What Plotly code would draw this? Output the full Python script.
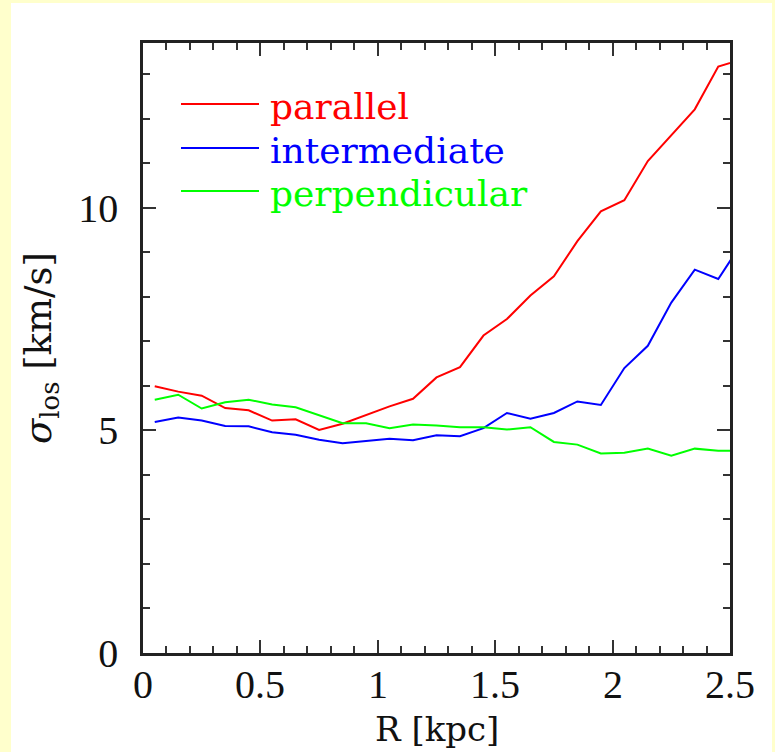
import plotly.graph_objects as go

R = [0.05, 0.15, 0.25, 0.35, 0.45, 0.55, 0.65, 0.75, 0.85, 0.95, 1.05, 1.15, 1.25,
     1.35, 1.45, 1.55, 1.65, 1.75, 1.85, 1.95, 2.05, 2.15, 2.25, 2.35, 2.45, 2.55]
parallel = [5.99, 5.87, 5.78, 5.50, 5.45, 5.22, 5.25, 5.01, 5.15, 5.35, 5.54, 5.71, 6.19,
            6.42, 7.13, 7.50, 8.03, 8.46, 9.25, 9.92, 10.17, 11.05, 11.63, 12.21, 13.17, 13.33]
intermediate = [5.19, 5.29, 5.22, 5.10, 5.09, 4.96, 4.90, 4.79, 4.71, 4.76, 4.81, 4.78, 4.89,
                4.87, 5.05, 5.39, 5.26, 5.39, 5.65, 5.57, 6.40, 6.90, 7.87, 8.61, 8.40, 9.20]
perpendicular = [5.69, 5.80, 5.49, 5.63, 5.69, 5.58, 5.52, 5.34, 5.16, 5.16, 5.05, 5.13, 5.11,
                 5.07, 5.07, 5.02, 5.07, 4.74, 4.68, 4.48, 4.50, 4.59, 4.43, 4.59, 4.54, 4.54]

x_ticks = [0, 0.5, 1, 1.5, 2, 2.5]
x_ticklabels = ["0", "0.5", "1", "1.5", "2", "2.5"]
y_ticks = [0, 5, 10]

series = [("parallel", parallel, "#ff0000"),
          ("intermediate", intermediate, "#0000ff"),
          ("perpendicular", perpendicular, "#00ff00")]

FONT = "DejaVu Serif"
TICKFONT = "Liberation Serif"
fig = go.Figure()
for name, vals, col in series:
    fig.add_trace(go.Scatter(x=R, y=vals, mode="lines", name=name,
                             line=dict(color=col, width=2), showlegend=False))

W, H = 775, 752
L, Rm, T, B = 143, 45, 43, 99
pw, ph = W - L - Rm, H - T - B

def px(x):
    return (x - L) / pw

def py(y):
    return (H - B - y) / ph

shapes = [dict(type="rect", xref="paper", yref="paper", layer="below",
               x0=px(11), x1=px(772), y0=py(760), y1=py(3),
               fillcolor="white", line=dict(width=0))]
annotations = []
leg_y = [104, 148, 191]
for (name, vals, col), yy in zip(series, leg_y):
    shapes.append(dict(type="line", xref="paper", yref="paper",
                       x0=px(181), x1=px(259), y0=py(yy), y1=py(yy),
                       line=dict(color=col, width=2)))
    annotations.append(dict(xref="paper", yref="paper", x=px(268), y=py(yy + 2),
                            xanchor="left", yanchor="middle", text=name, showarrow=False,
                            font=dict(family=FONT, size=36, color=col)))

# x tick labels placed on the x axis scale
for tv, tt in zip(x_ticks, x_ticklabels):
    annotations.append(dict(xref="x", yref="paper", x=tv, y=py(684),
                            xanchor="center", yanchor="middle", text=tt, showarrow=False,
                            font=dict(family=TICKFONT, size=40, color="#111")))

annotations.append(dict(xref="paper", yref="paper", x=0.5, y=py(729),
                        xanchor="center", yanchor="middle", text="R [kpc]", showarrow=False,
                        font=dict(family=FONT, size=34, color="#111")))

axis_common = dict(showline=True, linecolor="#222", linewidth=2.5, mirror="allticks",
                   ticks="inside", ticklen=13, tickwidth=2, tickcolor="#333",
                   showgrid=False, zeroline=False, automargin=False,
                   tickfont=dict(family=TICKFONT, size=40, color="#111"))

fig.update_layout(
    width=W, height=H,
    margin=dict(l=L, r=Rm, t=T, b=B, autoexpand=False),
    paper_bgcolor="#ffffcc", plot_bgcolor="white",
    shapes=shapes, annotations=annotations,
    xaxis=dict(range=[0, 2.5], tickvals=x_ticks, showticklabels=False,
               minor=dict(ticks="inside", ticklen=7, tickwidth=2, tickcolor="#333", dtick=0.1),
               **axis_common),
    yaxis=dict(range=[0, 13.7], tickvals=y_ticks,
               minor=dict(ticks="inside", ticklen=7, tickwidth=2, tickcolor="#333", dtick=1),
               title=dict(text="<i>σ</i><sub>los</sub> [km/s]",
                          font=dict(family=FONT, size=37, color="#111"), standoff=16),
               ticklabelstandoff=14,
               **axis_common),
)

fig.write_html("out.html")
